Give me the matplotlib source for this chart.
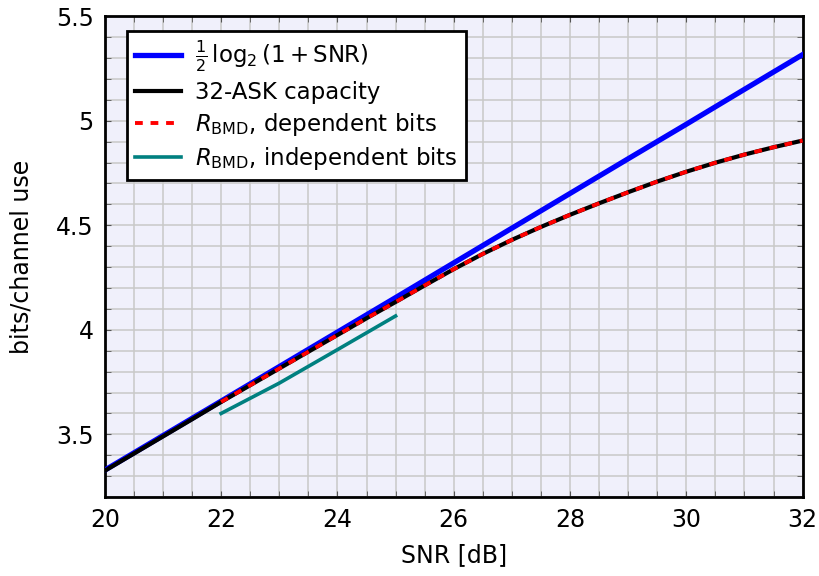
import numpy as np
import matplotlib
matplotlib.use("Agg")
import matplotlib.pyplot as plt
from matplotlib.ticker import MultipleLocator, FormatStrFormatter

# ==== DATOS ====
snr_db = [20, 21, 22, 23, 24, 25, 26, 27, 28, 29, 30, 31, 32]
awgn_cap = [3.329, 3.494, 3.659, 3.824, 3.989, 4.154, 4.320, 4.486, 4.652, 4.818, 4.983, 5.150, 5.316]

snr_ask = [20, 20.5, 21, 21.5, 22, 22.5, 23, 23.5, 24, 24.5, 25, 25.5, 26, 26.5,
           27, 27.5, 28, 28.5, 29, 29.5, 30, 30.5, 31, 31.5, 32]
ask_cap = [3.326, 3.408, 3.490, 3.572, 3.655, 3.735, 3.815, 3.895, 3.975, 4.055,
           4.133, 4.212, 4.290, 4.363, 4.430, 4.492, 4.550, 4.605, 4.658, 4.709,
           4.756, 4.799, 4.838, 4.873, 4.905]

snr_dep = [22, 22.5, 23, 23.5, 24, 24.5, 25, 25.5, 26, 26.5,
           27, 27.5, 28, 28.5, 29, 29.5, 30, 30.5, 31, 31.5, 32]
bmd_dep = [3.655, 3.735, 3.815, 3.895, 3.975, 4.055, 4.133, 4.212, 4.290, 4.363,
           4.430, 4.492, 4.550, 4.605, 4.658, 4.709, 4.756, 4.799, 4.838, 4.873, 4.905]

snr_ind = [22, 23, 24, 25]
bmd_ind = [3.600, 3.745, 3.905, 4.066]

x_ticks = [20, 22, 24, 26, 28, 30, 32]
y_ticks = [3.5, 4, 4.5, 5, 5.5]

plt.rcParams['font.family'] = 'DejaVu Sans'
plt.rcParams['mathtext.fontset'] = 'dejavusans'

fig = plt.figure(figsize=(8.19, 5.76), dpi=100)
ax = fig.add_axes([0.128, 0.137, 0.852, 0.835])
ax.set_facecolor('#f0f0fb')

# ==== CURVAS ====
ax.plot(snr_db, awgn_cap, color='#0000ff', linewidth=3.8,
        label=r'$\frac{1}{2}\,\log_2(1+\mathrm{SNR})$', zorder=3)
ax.plot(snr_ask, ask_cap, color='black', linewidth=3.0,
        label='32-ASK capacity', zorder=4)
ax.plot(snr_dep, bmd_dep, color='#ff0000', linewidth=2.8, linestyle=(0, (2, 2)),
        label=r'$R_{\mathrm{BMD}}$, dependent bits', zorder=5)
ax.plot(snr_ind, bmd_ind, color='#008080', linewidth=2.6,
        label=r'$R_{\mathrm{BMD}}$, independent bits', zorder=5)

# ==== EJES Y REJILLA ====
ax.set_xlim(20, 32)
ax.set_ylim(3.2, 5.5)
ax.set_xticks(x_ticks)
ax.set_yticks(y_ticks)
ax.yaxis.set_major_formatter(FormatStrFormatter('%g'))
ax.xaxis.set_minor_locator(MultipleLocator(0.5))
ax.yaxis.set_minor_locator(MultipleLocator(0.1))
ax.grid(which='both', color='#c8c8c8', linewidth=1.1)
ax.set_axisbelow(True)
ax.tick_params(which='both', direction='in', top=True, right=True,
               color='#555555', labelsize=17, pad=8)
ax.tick_params(which='major', length=4)
ax.tick_params(which='minor', length=4)
for s in ax.spines.values():
    s.set_linewidth(2)

ax.set_xlabel('SNR [dB]', fontsize=17, labelpad=8)
ax.set_ylabel('bits/channel use', fontsize=17, labelpad=16)

leg = ax.legend(loc='upper left', fontsize=16.5, fancybox=False, framealpha=1,
                edgecolor='black', borderpad=0.35, labelspacing=0.3,
                handlelength=2.0, handletextpad=0.6, bbox_to_anchor=(0.016, 0.993))
leg.get_frame().set_linewidth(2)

# titulo cortado en la parte superior
fig.text(0.282, 1.008, '(b)', color='#2a7ab8', fontsize=17, ha='center', va='baseline')

fig.savefig('out.png', dpi=100)
